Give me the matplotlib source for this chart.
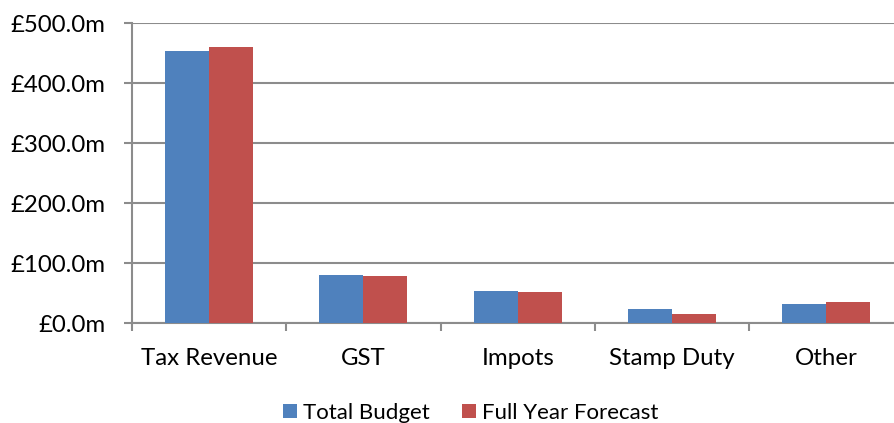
import numpy as np
import matplotlib
matplotlib.use("Agg")
import matplotlib.pyplot as plt
from matplotlib.ticker import FuncFormatter, FixedLocator

categories = ["Tax Revenue", "GST", "Impots", "Stamp Duty", "Other"]
total_budget = [454, 80, 53, 23, 31.5]
full_year_forecast = [460, 78, 52, 15, 35]
series_names = ["Total Budget", "Full Year Forecast"]

BLUE = "#4F81BD"
RED = "#C0504D"
GRID = "#8C8C8C"

plt.rcParams["font.family"] = ["Lato", "DejaVu Sans"]

W, H = 895, 423
fig = plt.figure(figsize=(W / 100, H / 100), dpi=100)
# plot area runs a little past the right edge, as in the original export
ax = fig.add_axes([132 / W, 1 - 323 / H, 771.6 / W, 299.5 / H])

x = np.arange(len(categories))
w = 0.285
ax.bar(x - w / 2, total_budget, w, color=BLUE, label=series_names[0], zorder=3)
ax.bar(x + w / 2, full_year_forecast, w, color=RED, label=series_names[1], zorder=3)

ax.set_xlim(-0.5, len(categories) - 0.5)
ax.set_ylim(0, 500)
ax.set_yticks(np.arange(0, 501, 100))
ax.yaxis.set_major_formatter(FuncFormatter(lambda v, p: f"£{v:.1f}m"))
ax.yaxis.grid(True, color=GRID, linewidth=1.5, zorder=0)

ax.set_xticks(x)
ax.set_xticklabels(categories)
ax.xaxis.set_minor_locator(FixedLocator(np.arange(-0.5, len(categories), 1.0)))
ax.tick_params(axis="x", which="major", length=0, pad=18, labelsize=17.3)
ax.tick_params(axis="x", which="minor", length=5.8, width=1.5, color=GRID)
ax.tick_params(axis="y", length=5.8, width=1.5, color=GRID, labelsize=17.3, pad=13.5)

for side in ["top", "right"]:
    ax.spines[side].set_visible(False)
for side in ["left", "bottom"]:
    ax.spines[side].set_color(GRID)
    ax.spines[side].set_linewidth(1.5)

fig.legend(loc="center left", bbox_to_anchor=(283 / W, 1 - 413 / H), ncol=2,
           frameon=False, fontsize=16, borderpad=0, borderaxespad=0,
           handlelength=0.63, handleheight=0.6, handletextpad=0.27,
           columnspacing=1.45)

fig.savefig("out.png", dpi=100)
